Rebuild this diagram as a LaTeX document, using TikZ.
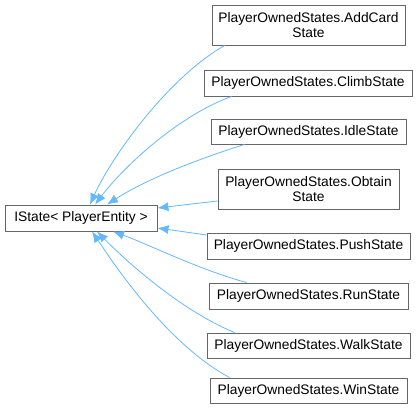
\documentclass[tikz,border=0pt]{standalone}
\usepackage{fontspec}
\setmainfont{Liberation Sans}
\usetikzlibrary{arrows.meta}
\definecolor{edgeblue}{HTML}{63B8FF}
\definecolor{boxgray}{HTML}{666666}
\begin{document}
\begin{tikzpicture}[x=1pt,y=1pt,
  cls/.style={draw=boxgray, fill=white, line width=0.9pt, inner sep=0pt, align=center,
    font=\fontsize{13.8}{14.2}\selectfont},
  inh/.style={draw=edgeblue, line width=0.8pt, -{Latex[length=11pt,width=9pt]}, fill=none}]
\useasboundingbox (0,0) rectangle (417,413);
\node[cls, minimum width=152pt, minimum height=26pt] (base) at (81,195) {IState< PlayerEntity >};
\node[cls, minimum width=193pt, minimum height=40pt] (addcard) at (308.5,388) {PlayerOwnedStates.AddCard\\State};
\node[cls, minimum width=208pt, minimum height=26pt] (climb) at (308,330) {PlayerOwnedStates.ClimbState};
\node[cls, minimum width=195pt, minimum height=25pt] (idle) at (308.5,281.5) {PlayerOwnedStates.IdleState};
\node[cls, minimum width=181pt, minimum height=40pt] (obtain) at (308.5,224) {PlayerOwnedStates.Obtain\\State};
\node[cls, minimum width=203pt, minimum height=26pt] (push) at (308.5,167) {PlayerOwnedStates.PushState};
\node[cls, minimum width=199pt, minimum height=26pt] (run) at (308.5,117) {PlayerOwnedStates.RunState};
\node[cls, minimum width=203pt, minimum height=25pt] (walk) at (308.5,67.5) {PlayerOwnedStates.WalkState};
\node[cls, minimum width=197pt, minimum height=25pt] (win) at (308.5,22.5) {PlayerOwnedStates.WinState};

\draw[inh] ([xshift=13pt]addcard.south west) .. controls (165,333) and (110,253) .. ([xshift=9pt]base.north);
\draw[inh] ([xshift=28pt]climb.south west) .. controls (180,298) and (125,248) .. ([xshift=14pt]base.north);
\draw[inh] ([xshift=34pt]idle.south west) .. controls (195,253) and (145,233) .. ([xshift=26pt]base.north);
\draw[inh] ([yshift=-12pt]obtain.west) -- ([yshift=10pt]base.east);
\draw[inh] ([yshift=11pt]push.west) -- ([yshift=-10pt]base.east);
\draw[inh] ([xshift=38pt]run.north west) .. controls (200,143) and (150,168) .. ([xshift=32pt]base.south);
\draw[inh] ([xshift=28pt]walk.north west) .. controls (180,103) and (125,153) .. ([xshift=16pt]base.south);
\draw[inh] ([xshift=20pt]win.north west) .. controls (165,70) and (110,155) .. ([xshift=11pt]base.south);
\end{tikzpicture}
\end{document}
